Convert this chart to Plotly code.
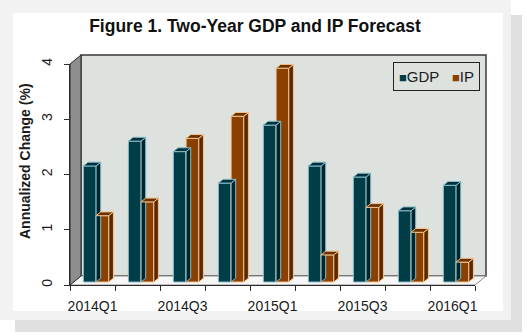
import plotly.graph_objects as go

# ---------------- data ----------------
categories = ["2014Q1", "2014Q2", "2014Q3", "2014Q4", "2015Q1",
              "2015Q2", "2015Q3", "2015Q4", "2016Q1"]
gdp = [2.10, 2.55, 2.36, 1.79, 2.84, 2.10, 1.90, 1.29, 1.75]
ip = [1.20, 1.45, 2.60, 3.00, 3.87, 0.49, 1.35, 0.90, 0.36]
tick_positions = [0, 2, 4, 6, 8]
tick_labels = ["2014Q1", "2014Q3", "2015Q1", "2015Q3", "2016Q1"]
y_ticks = [0, 1, 2, 3, 4]

# ---------------- geometry ----------------
W, H = 527, 336
L, R, T, B = 70, 475, 64, 285          # front plane of the 3-D box (px)
n = len(categories)
xr = (-0.5, n - 0.5)
yr = (0, 4)
ux = (xr[1] - xr[0]) / (R - L)          # data units per px (x)
uy = (yr[1] - yr[0]) / (B - T)          # data units per px (y)
DX, DY = 11, 9                          # full depth of the box (px)

def px(x):
    return (x - L) / (R - L)

def py(y):
    return (B - y) / (B - T)

bar_w = 12.7 * ux
front_dx, front_dy = 3.6 * ux, 3.0 * uy   # bar front-face depth shift
bd_x, bd_y = 4.6 * ux, 3.8 * uy           # bar depth

GDP_FRONT, GDP_SIDE, GDP_TOP, GDP_EDGE = "#003d47", "#00252c", "#00313a", "#86bccb"
IP_FRONT, IP_SIDE, IP_TOP, IP_EDGE = "#8a4000", "#5a2800", "#6b3200", "#f5c38c"
TXT = "#1a1a1a"


def faces(values, offset):
    sx, sy, tx, ty = [], [], [], []
    for i, v in enumerate(values):
        x0 = i + front_dx + offset
        x1 = x0 + bar_w
        b = front_dy
        t = front_dy + v
        sx += [x1, x1 + bd_x, x1 + bd_x, x1, x1, None]
        sy += [b, b + bd_y, t + bd_y, t, b, None]
        tx += [x0, x1, x1 + bd_x, x0 + bd_x, x0, None]
        ty += [t, t, t + bd_y, t + bd_y, t, None]
    return sx, sy, tx, ty


fig = go.Figure()

for vals, off, front, side, top, edge, name in [
    (gdp, -bar_w, GDP_FRONT, GDP_SIDE, GDP_TOP, GDP_EDGE, "GDP"),
    (ip, 0.0, IP_FRONT, IP_SIDE, IP_TOP, IP_EDGE, "IP"),
]:
    sx, sy, tx, ty = faces(vals, off)
    fig.add_trace(go.Scatter(x=sx, y=sy, mode="lines", fill="toself",
                             fillcolor=side, line=dict(color=edge, width=1),
                             hoverinfo="skip", showlegend=False))
    fig.add_trace(go.Scatter(x=tx, y=ty, mode="lines", fill="toself",
                             fillcolor=top, line=dict(color=edge, width=1),
                             hoverinfo="skip", showlegend=False))
    fig.add_trace(go.Bar(x=[i + front_dx for i in range(n)], y=vals,
                         base=[front_dy] * n, width=bar_w, offset=off,
                         marker=dict(color=front, line=dict(color=edge, width=1)),
                         name=name, showlegend=False, hoverinfo="skip"))

shapes = []
# frame: shadow, light card, white panel
shapes.append(dict(type="rect", xref="paper", yref="paper", layer="below",
                   x0=px(15), x1=px(522), y0=py(332), y1=py(15),
                   fillcolor="#e0e0e0", line=dict(width=0)))
shapes.append(dict(type="rect", xref="paper", yref="paper", layer="below",
                   x0=px(0), x1=px(511), y0=py(320), y1=py(0),
                   fillcolor="#f2f2f2", line=dict(width=0)))
shapes.append(dict(type="rect", xref="paper", yref="paper", layer="below",
                   x0=px(13), x1=px(503), y0=py(311), y1=py(13),
                   fillcolor="#ffffff", line=dict(width=0)))


def poly(pts, fill, line, lw):
    path = "M " + " L ".join(f"{px(a):.5f},{py(b):.5f}" for a, b in pts) + " Z"
    return dict(type="path", xref="paper", yref="paper", layer="below",
                path=path, fillcolor=fill, line=dict(color=line, width=lw))

# back wall
shapes.append(poly([(L + DX, T - DY), (R + DX, T - DY), (R + DX, B - DY), (L + DX, B - DY)],
                   "#dde2de", "#3a3a3a", 1.5))
# floor
shapes.append(poly([(L, B), (L + DX, B - DY), (R + DX, B - DY), (R, B)],
                   "#f7f7f7", "#8a8a8a", 1))
# side wall
shapes.append(poly([(L, T), (L + DX, T - DY), (L + DX, B - DY), (L, B)],
                   "#8e8e8e", "#2a2a2a", 1))

NB = "&nbsp;"
annotations = [
    dict(text="<b>Annualized Change (%)</b>", xref="paper", yref="paper",
         x=px(25), y=py(161), xanchor="center", yanchor="middle",
         showarrow=False, textangle=-90,
         font=dict(family="Liberation Sans", size=14, color=TXT)),
    dict(text=(f'<span style="color:{GDP_FRONT};font-size:13px">■</span>GDP{NB * 3}'
               f'<span style="color:{IP_FRONT};font-size:13px">■</span>IP'),
         xref="paper", yref="paper", x=px(436.5), y=py(76.5),
         xanchor="center", yanchor="middle", showarrow=False,
         font=dict(family="Liberation Sans", size=15, color=TXT),
         bordercolor="#222222", borderwidth=1, borderpad=5, bgcolor="#dde2de"),
]

fig.update_layout(
    width=W, height=H,
    margin=dict(l=L, r=W - R, t=T, b=H - B, pad=0),
    paper_bgcolor="#ffffff", plot_bgcolor="rgba(0,0,0,0)",
    barmode="overlay", showlegend=False,
    shapes=shapes, annotations=annotations,
    title=dict(text="<b>Figure 1. Two-Year GDP and IP Forecast</b>",
               x=255 / W, xref="container", xanchor="center",
               y=1 - 26 / H, yref="container", yanchor="middle",
               font=dict(family="Liberation Sans", size=17.5, color="#111111")),
    font=dict(family="Liberation Sans", color=TXT),
)

fig.update_xaxes(range=list(xr), showgrid=False, zeroline=False,
                 showline=True, linecolor="#2a2a2a", linewidth=1,
                 tickvals=tick_positions, ticktext=tick_labels,
                 ticks="outside", ticklen=0, tickcolor="#2a2a2a",
                 ticklabelstandoff=8,
                 tickfont=dict(size=14, color=TXT),
                 minor=dict(tickvals=[i - 0.5 for i in range(n + 1)],
                            ticks="outside", ticklen=5, tickcolor="#2a2a2a",
                            showgrid=False),
                 fixedrange=True)
fig.update_yaxes(range=list(yr), showgrid=False, zeroline=False,
                 showline=True, linecolor="#2a2a2a", linewidth=1,
                 tickvals=y_ticks, ticks="outside", ticklen=5,
                 tickcolor="#2a2a2a", tickangle=-90, ticklabelstandoff=6,
                 tickfont=dict(size=14, color=TXT), fixedrange=True)

fig.write_html("out.html")
